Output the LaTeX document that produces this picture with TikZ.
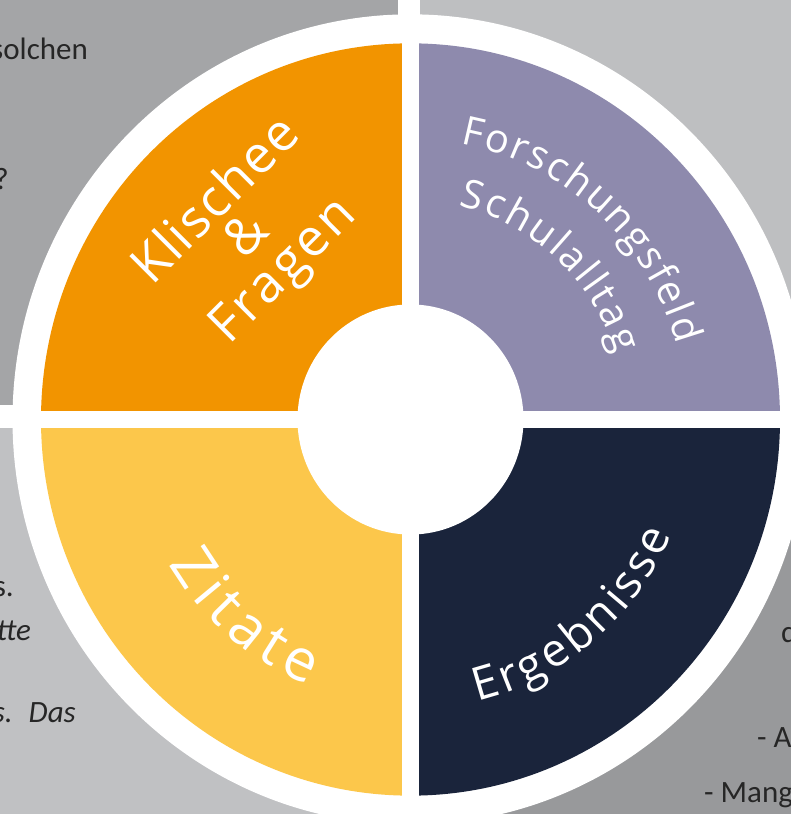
\documentclass[tikz,border=0pt]{standalone}
\usepackage{fontspec}
\setmainfont{Carlito}
\newfontfamily\wheelfont{Open Sans}
\usetikzlibrary{decorations.text}

\definecolor{panelTL}{HTML}{A4A5A7}
\definecolor{panelTR}{HTML}{BEBFC1}
\definecolor{panelBL}{HTML}{C0C1C3}
\definecolor{panelBR}{HTML}{98999B}
\definecolor{segOrange}{HTML}{F29400}
\definecolor{segPurple}{HTML}{8E8AAD}
\definecolor{segNavy}{HTML}{1A243B}
\definecolor{segYellow}{HTML}{FCC74B}
\definecolor{notegray}{HTML}{262626}

\newcommand\wheelsize[1]{\wheelfont\fontsize{#1}{#1}\selectfont}

\begin{document}
\begin{tikzpicture}[x=1pt, y=1pt,
  note/.style={text=notegray, font=\fontsize{31}{37}\selectfont, inner sep=0pt},
  noteit/.style={note, font=\fontsize{31}{37}\selectfont\itshape},
  arclabel/.style={decorate, decoration={text along path, text align=fit to path,
      text color=white, text={#1}}}]

\useasboundingbox (0,0) rectangle (791,814);
\clip (0,0) rectangle (791,814);
\fill[white] (0,0) rectangle (791,814);

% four grey text panels behind the wheel
\fill[panelTL] (0,409) rectangle (398,814);
\fill[panelTR] (420,409) rectangle (791,814);
\fill[panelBL] (0,0) rectangle (398,386);
\fill[panelBR] (420,0) rectangle (791,386);

% panel text running out of the frame
\node[note, anchor=base west] (tl1) at (-9,754.5) {solchen};
\node[note, anchor=base east] (tl2) at (9,624) {?};
\node[note, anchor=base east] (bl1) at (14,217.5) {s.};
\node[noteit, anchor=base east] (bl2) at (31,173) {tte};
\node[noteit, anchor=base east] (bl3) at (76,91) {s.\hspace{16pt}Das};
\node[note, anchor=base west] (br1) at (781,171) {d};
\node[note, anchor=base west] (br2) at (757,66) {- A};
\node[note, anchor=base west] (br3) at (704,12) {- Mang};

% the wheel
\begin{scope}[shift={(410.5,394.5)}, yscale=1.018]
  \fill[white] (0,0) circle[radius=398];
  \fill[segOrange] (0,0) -- (180:369.5) arc[start angle=180, end angle=90, radius=369.5] -- cycle;
  \fill[segPurple] (0,0) -- (90:369.5) arc[start angle=90, end angle=0, radius=369.5] -- cycle;
  \fill[segNavy] (0,0) -- (360:369.5) arc[start angle=360, end angle=270, radius=369.5] -- cycle;
  \fill[segYellow] (0,0) -- (270:369.5) arc[start angle=270, end angle=180, radius=369.5] -- cycle;
  \fill[white] (-8.8,-372) rectangle (8.8,372);
  \fill[white] (-372,-8.4) rectangle (372,8.4);
  \fill[white] (0,0) circle[radius=113];

  % curved segment titles
  \path[arclabel={|\wheelsize{40}|Forschungsfeld}]
    (79.5:276) arc[start angle=79.5, end angle=15.5, radius=276];
  \path[arclabel={|\wheelsize{40}|Schulalltag}]
    (77:215) arc[start angle=77, end angle=17.5, radius=215];
  \path[arclabel={|\wheelsize{58}|Zitate}]
    (210.5:280) arc[start angle=210.5, end angle=248.5, radius=280];
  \path[arclabel={|\wheelsize{46}|Ergebnisse}]
    (283.5:285) arc[start angle=283.5, end angle=336.5, radius=285];
\end{scope}

% straight title of the orange segment
\coordinate (k1) at (152,527);
\coordinate (k2) at (302.6,677.6);
\coordinate (f1) at (229.8,468.8);
\coordinate (f2) at (357.8,596.8);
\path[arclabel={|\wheelsize{52}|Klischee}] (k1) -- (k2);
\node[text=white, rotate=45, font=\wheelsize{52}, inner sep=0pt] (amp) at (245,580) {\&};
\path[arclabel={|\wheelsize{52}|Fragen}] (f1) -- (f2);

\end{tikzpicture}
\end{document}
